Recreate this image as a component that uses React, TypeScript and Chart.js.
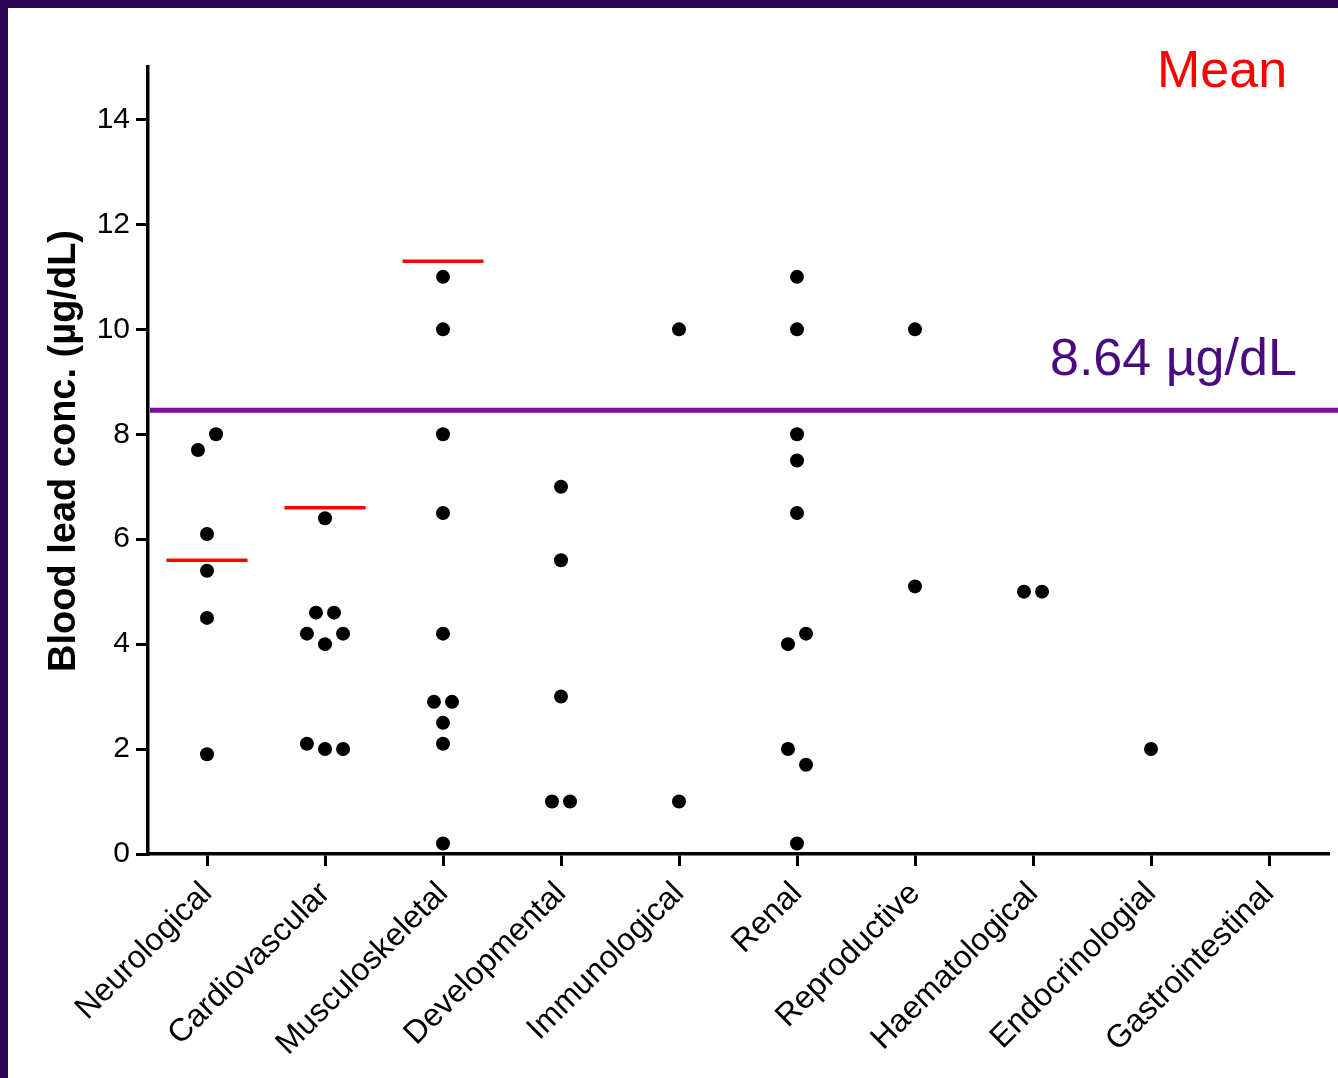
import React, { useEffect, useRef } from 'react';
import { Chart, registerables } from 'chart.js';

Chart.register(...registerables);

// ---------- data ----------
const categories = [
  'Neurological',
  'Cardiovascular',
  'Musculoskeletal',
  'Developmental',
  'Immunological',
  'Renal',
  'Reproductive',
  'Haematological',
  'Endocrinologial',
  'Gastrointestinal',
];

const neurological = [7.7, 8.0, 6.1, 5.4, 4.5, 1.9];
const cardiovascular = [6.4, 4.6, 4.6, 4.2, 4.0, 4.2, 2.1, 2.0, 2.0];
const musculoskeletal = [11, 10, 8, 6.5, 4.2, 2.9, 2.9, 2.5, 2.1, 0.2];
const developmental = [7, 5.6, 3, 1, 1];
const immunological = [10, 1];
const renal = [11, 10, 8, 7.5, 6.5, 4.0, 4.2, 2.0, 1.7, 0.2];
const reproductive = [10, 5.1];
const haematological = [5, 5];
const endocrinological = [2];
const gastrointestinal: number[] = [];

const seriesValues = [
  neurological,
  cardiovascular,
  musculoskeletal,
  developmental,
  immunological,
  renal,
  reproductive,
  haematological,
  endocrinological,
  gastrointestinal,
];

const meanCategories = ['Neurological', 'Cardiovascular', 'Musculoskeletal'];
const meanValues = [5.6, 6.6, 11.3];

const referenceValue = 8.46;
const referenceLabel = '8.64 \u00B5g/dL';
const meanLabel = 'Mean';
const yTicks = [0, 2, 4, 6, 8, 10, 12, 14];
const yAxisTitle = 'Blood lead conc. (\u00B5g/dL)';

// ---------- layout / style constants ----------
const FONT = '"Liberation Sans", Arial, Helvetica, sans-serif';
const ROW_TOLERANCE = 0.35; // values closer than this share a swarm row
const SWARM_STEP = 0.153; // horizontal spacing in category units
const MEAN_HALF_WIDTH = 0.343;

function swarm(values: number[], catIndex: number) {
  const order = values.map((_, i) => i).sort((a, b) => values[b] - values[a] || a - b);
  const rows: number[][] = [];
  for (const idx of order) {
    const row = rows[rows.length - 1];
    if (row && values[row[0]] - values[idx] <= ROW_TOLERANCE) row.push(idx);
    else rows.push([idx]);
  }
  const pts: { x: number; y: number }[] = [];
  for (const row of rows) {
    const sorted = [...row].sort((a, b) => a - b);
    sorted.forEach((idx, k) => {
      pts.push({ x: catIndex + (k - (sorted.length - 1) / 2) * SWARM_STEP, y: values[idx] });
    });
  }
  return pts;
}

export default function App() {
  const canvasRef = useRef<HTMLCanvasElement | null>(null);

  useEffect(() => {
    const canvas = canvasRef.current;
    if (!canvas) return;

    const points = seriesValues.flatMap((vals, i) => swarm(vals, i));
    const meanData: { x: number; y: number | null }[] = [];
    meanCategories.forEach((c, k) => {
      const i = categories.indexOf(c);
      meanData.push({ x: i - MEAN_HALF_WIDTH, y: meanValues[k] });
      meanData.push({ x: i + MEAN_HALF_WIDTH, y: meanValues[k] });
      meanData.push({ x: i + 0.5, y: null });
    });

    const overlay = {
      id: 'overlay',
      beforeDatasetsDraw(chart: any) {
        const { ctx, chartArea } = chart;
        const y = chart.scales.y.getPixelForValue(referenceValue);
        ctx.save();
        ctx.strokeStyle = '#7d0ba0';
        ctx.lineWidth = 5;
        ctx.beginPath();
        ctx.moveTo(chartArea.left + 2, y);
        ctx.lineTo(chart.width, y);
        ctx.stroke();
        ctx.restore();
      },
      afterDatasetsDraw(chart: any) {
        const { ctx } = chart;
        ctx.save();
        ctx.textAlign = 'left';
        ctx.textBaseline = 'alphabetic';
        ctx.fillStyle = '#ff0000';
        ctx.font = `52px ${FONT}`;
        ctx.fillText(meanLabel, 1149, 79);
        ctx.fillStyle = '#4a0a80';
        ctx.font = `52px ${FONT}`;
        ctx.fillText(referenceLabel, 1042, 367);
        ctx.translate(57, 443);
        ctx.rotate(-Math.PI / 2);
        ctx.font = `bold 38px ${FONT}`;
        ctx.textAlign = 'center';
        ctx.textBaseline = 'middle';
        ctx.fillStyle = '#000';
        ctx.fillText(yAxisTitle, 0, 0);
        ctx.restore();
      },
    };

    const chart = new Chart(canvas, {
      type: 'scatter',
      data: {
        datasets: [
          {
            label: 'values',
            data: points,
            showLine: false,
            pointRadius: 7,
            pointHoverRadius: 7,
            pointBackgroundColor: '#000',
            pointBorderWidth: 0,
            backgroundColor: '#000',
            borderColor: '#000',
          },
          {
            label: 'mean',
            data: meanData,
            showLine: true,
            spanGaps: false,
            borderColor: '#ff0000',
            borderWidth: 3.5,
            borderCapStyle: 'butt',
            pointRadius: 0,
            pointHoverRadius: 0,
          } as any,
        ],
      },
      options: {
        animation: false,
        responsive: false,
        maintainAspectRatio: false,
        events: [],
        layout: { padding: { left: 0, right: 10, top: 59, bottom: 0 } },
        plugins: {
          legend: { display: false },
          tooltip: { enabled: false },
          title: { display: false },
        },
        scales: {
          x: {
            type: 'linear',
            min: -0.5,
            max: categories.length - 0.5,
            afterBuildTicks: (s: any) => {
              s.ticks = categories.map((_, i) => ({ value: i }));
            },
            afterFit: (s: any) => {
              s.height = 224;
              s.paddingLeft = 0;
              s.paddingRight = 0;
            },
            ticks: {
              autoSkip: false,
              minRotation: 45,
              maxRotation: 45,
              padding: 9,
              color: '#000',
              font: { family: FONT, size: 32 },
              callback: (v: any) => categories[v] ?? '',
            },
            grid: {
              drawOnChartArea: false,
              drawTicks: true,
              tickLength: 12,
              tickWidth: 3,
              tickColor: '#000',
              color: '#000',
              lineWidth: 3,
            },
            border: { display: true, color: '#000', width: 3.5 },
          },
          y: {
            type: 'linear',
            min: 0,
            max: 15,
            afterBuildTicks: (s: any) => {
              s.ticks = yTicks.map((v) => ({ value: v }));
            },
            afterFit: (s: any) => {
              s.width = 140;
            },
            ticks: {
              padding: 6,
              color: '#000',
              font: { family: FONT, size: 30 },
              callback: (v: any) => String(v),
            },
            grid: {
              drawOnChartArea: false,
              drawTicks: true,
              tickLength: 12,
              tickWidth: 3,
              tickColor: '#000',
              color: '#000',
              lineWidth: 3,
            },
            border: { display: true, color: '#000', width: 3.5 },
          },
        },
      } as any,
      plugins: [overlay],
    });

    return () => chart.destroy();
  }, []);

  return (
    <div
      style={{
        position: 'fixed',
        left: 0,
        top: 0,
        width: 1338,
        height: 1078,
        background: '#2e0654',
        overflow: 'hidden',
      }}
    >
      <canvas
        ref={canvasRef}
        width={1330}
        height={1070}
        style={{ position: 'absolute', left: 8, top: 8, width: 1330, height: 1070, background: '#fff' }}
      />
    </div>
  );
}
